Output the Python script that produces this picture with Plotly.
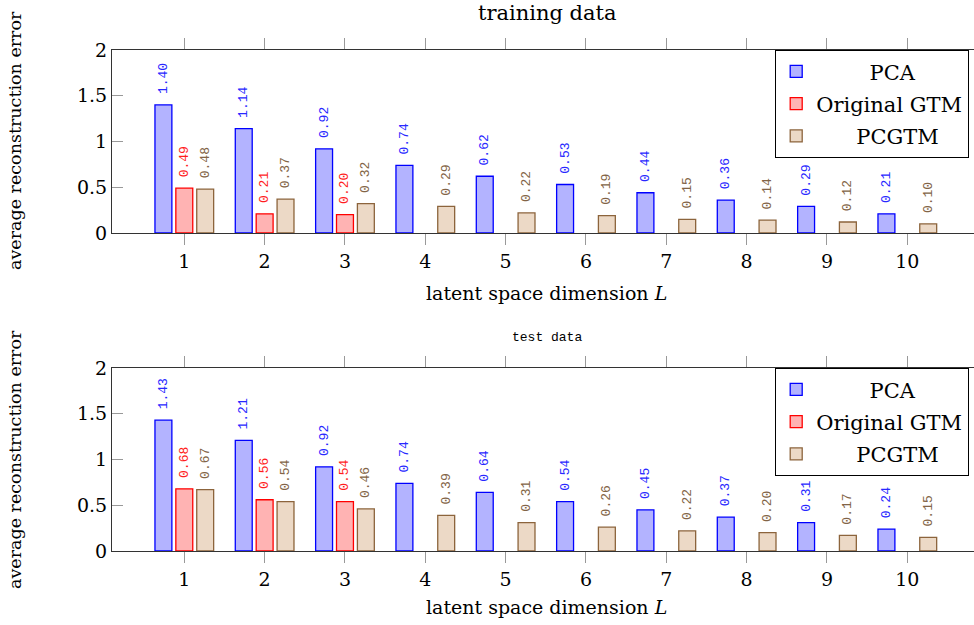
import plotly.graph_objects as go

dims = [1, 2, 3, 4, 5, 6, 7, 8, 9, 10]
series_names = ["PCA", "Original GTM", "PCGTM"]

train_pca = [1.40, 1.14, 0.92, 0.74, 0.62, 0.53, 0.44, 0.36, 0.29, 0.21]
train_gtm = [0.49, 0.21, 0.20, None, None, None, None, None, None, None]
train_pcgtm = [0.48, 0.37, 0.32, 0.29, 0.22, 0.19, 0.15, 0.14, 0.12, 0.10]

test_pca = [1.43, 1.21, 0.92, 0.74, 0.64, 0.54, 0.45, 0.37, 0.31, 0.24]
test_gtm = [0.68, 0.56, 0.54, None, None, None, None, None, None, None]
test_pcgtm = [0.67, 0.54, 0.46, 0.39, 0.31, 0.26, 0.22, 0.20, 0.17, 0.15]

fills = ["rgb(179,179,255)", "rgb(255,179,179)", "rgb(236,217,198)"]
lines = ["rgb(0,0,255)", "rgb(255,0,0)", "rgb(140,100,60)"]
textcols = ["rgb(40,40,255)", "rgb(255,30,30)", "rgb(130,100,70)"]
# leading padding so legend labels appear centred like the reference
legend_pad = [8, 0, 6]

SERIF = "DejaVu Serif"
MONO = "Liberation Mono"

fig = go.Figure()

def add_group(vals_list, xa, ya, legend):
    for i, vals in enumerate(vals_list):
        fig.add_trace(go.Bar(
            x=dims, y=vals, name="\u00a0" * legend_pad[i] + series_names[i],
            xaxis=xa, yaxis=ya, legend=legend, legendgroup=f"{legend}_{i}",
            marker=dict(color=fills[i], line=dict(color=lines[i], width=1.3)),
            texttemplate="\u00a0%{y:.2f}", textposition="outside", textangle=-90,
            textfont=dict(family=MONO, size=13, color=textcols[i]),
            constraintext="none", cliponaxis=False,
        ))

add_group([train_pca, train_gtm, train_pcgtm], "x", "y", "legend")
add_group([test_pca, test_gtm, test_pcgtm], "x2", "y2", "legend2")

W, H = 974, 625
xdom = [112 / W, 1.0]
top_dom = [1 - 233 / H, 1 - 50 / H]
bot_dom = [1 - 551 / H, 1 - 368 / H]

xcommon = dict(range=[0.10, 10.83], tickvals=dims, showline=True, linecolor="#333",
               linewidth=1.2, mirror="ticks", ticks="outside", ticklen=11,
               tickcolor="#999", tickwidth=1.2, showgrid=False, zeroline=False,
               tickfont=dict(family=SERIF, size=19, color="black"))
ycommon = dict(range=[0, 2], tickvals=[0, 0.5, 1, 1.5, 2], ticktext=["0", "0.5", "1", "1.5", "2"],
               showline=True, linecolor="#333", linewidth=1.2, mirror=False,
               ticks="inside", ticklen=11, tickcolor="#999", tickwidth=1.2,
               showgrid=False, zeroline=False,
               tickfont=dict(family=SERIF, size=19, color="black"))

legcommon = dict(x=775 / W, xanchor="left", yanchor="top", bgcolor="white",
                 bordercolor="black", borderwidth=1.2,
                 font=dict(family=SERIF, size=21, color="black"),
                 itemwidth=30, tracegroupgap=2)

def ann(text, x, y, font, angle=0):
    return dict(text=text, x=x / W, y=1 - y / H, xref="paper", yref="paper",
                xanchor="center", yanchor="middle", showarrow=False,
                textangle=angle, font=font)

serif_t = dict(family=SERIF, size=19, color="black")
serif_y = dict(family=SERIF, size=17.5, color="black")

fig.update_layout(
    width=W, height=H, margin=dict(l=0, r=0, t=0, b=0, autoexpand=False),
    plot_bgcolor="white", paper_bgcolor="white",
    barmode="group", bargap=0.22, bargroupgap=0.19,
    xaxis=dict(domain=xdom, anchor="y", **xcommon),
    yaxis=dict(domain=top_dom, anchor="x", **ycommon),
    xaxis2=dict(domain=xdom, anchor="y2", **xcommon),
    yaxis2=dict(domain=bot_dom, anchor="x2", **ycommon),
    legend=dict(y=1 - 50 / H, **legcommon),
    legend2=dict(y=1 - 368 / H, **legcommon),
    annotations=[
        ann("training data", 547, 13, dict(family=SERIF, size=21, color="black")),
        ann("test data", 547, 338, dict(family=MONO, size=13, color="black")),
        ann("latent space dimension <i>L</i>", 546, 293, serif_t),
        ann("latent space dimension <i>L</i>", 546, 607, serif_t),
        ann("average reconstruction error", 15, 141, serif_y, -90),
        ann("average reconstruction error", 15, 460, serif_y, -90),
    ],
)

fig.write_html("out.html")
